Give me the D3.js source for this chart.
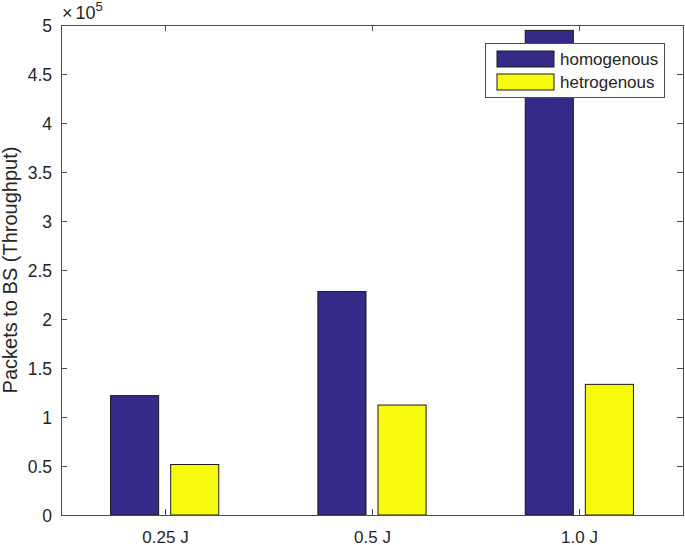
<!DOCTYPE html>
<html><head><meta charset="utf-8">
<script src="https://cdn.jsdelivr.net/npm/d3@7"></script>
<style>body{margin:0;background:#fff}svg{display:block;font-family:"Liberation Sans",Arial,sans-serif}</style>
</head><body>
<svg id="c" width="685" height="545"></svg>
<script>
const categories = ["0.25 J", "0.5 J", "1.0 J"];
const seriesNames = ["homogenous", "hetrogenous"];
const homogenous = [121800, 228000, 494500];
const hetrogenous = [51500, 112200, 133300];
const yTicks = [0, 0.5, 1, 1.5, 2, 2.5, 3, 3.5, 4, 4.5, 5];
const colors = ["#352a87", "#f8fa0d"];

const svg = d3.select("#c");
const L = 61, R = 683, T = 25, B = 515;
const x = d3.scaleLinear().domain([0.5, 3.5]).range([L, R]);
const y = d3.scaleLinear().domain([0, 500000]).range([B, T]);
const axisColor = "#4d4d4d";
const textColor = "#262626";

const series = [homogenous, hetrogenous];
const barW = 0.232, off = 0.145;
series.forEach((vals, s) => {
  svg.append("g").selectAll("rect").data(vals).join("rect")
    .attr("x", (d, i) => x(i + 1 + (s === 0 ? -off : off) - barW / 2))
    .attr("width", x(1 + barW) - x(1))
    .attr("y", d => y(d))
    .attr("height", d => y(0) - y(d))
    .attr("fill", colors[s]).attr("stroke", "#1a1a1a").attr("stroke-width", 1);
});

const g = svg.append("g").attr("fill", "none").attr("stroke", axisColor).attr("stroke-width", 1);
g.append("rect").attr("x", L + 0.5).attr("y", T + 0.5).attr("width", R - L).attr("height", B - T);

yTicks.forEach(t => {
  const yy = Math.round(y(t * 1e5)) + 0.5;
  g.append("line").attr("x1", L).attr("x2", L + 6).attr("y1", yy).attr("y2", yy);
  g.append("line").attr("x1", R - 6).attr("x2", R).attr("y1", yy).attr("y2", yy);
  svg.append("text").attr("x", L - 9).attr("y", yy + 6.5).attr("text-anchor", "end")
    .attr("font-size", 17.5).attr("fill", textColor).text(String(t));
});
categories.forEach((c, i) => {
  const xx = Math.round(x(i + 1)) + 0.5;
  g.append("line").attr("x1", xx).attr("x2", xx).attr("y1", B).attr("y2", B - 6);
  g.append("line").attr("x1", xx).attr("x2", xx).attr("y1", T).attr("y2", T + 6);
  svg.append("text").attr("x", xx).attr("y", B + 27.5).attr("text-anchor", "middle")
    .attr("font-size", 17).attr("fill", textColor).text(c);
});

const ex = svg.append("text").attr("x", L + 1).attr("y", 19).attr("font-size", 18).attr("fill", textColor);
ex.append("tspan").text("\u00d7");
ex.append("tspan").attr("dx", 3).text("10");
ex.append("tspan").attr("dy", -8).attr("font-size", 13).text("5");

svg.append("text").attr("transform", `translate(17,${(T + B) / 2}) rotate(-90)`)
  .attr("text-anchor", "middle").attr("font-size", 20).attr("fill", textColor)
  .text("Packets to BS (Throughput)");

const lg = svg.append("g");
lg.append("rect").attr("x", 485.5).attr("y", 43.5).attr("width", 179).attr("height", 54)
  .attr("fill", "#fff").attr("stroke", axisColor);
seriesNames.forEach((n, i) => {
  const yy = 51 + i * 23;
  lg.append("rect").attr("x", 497).attr("y", yy).attr("width", 57).attr("height", 16)
    .attr("fill", colors[i]).attr("stroke", "#1a1a1a");
  lg.append("text").attr("x", 560).attr("y", yy + 14).attr("font-size", 17).attr("fill", textColor).text(n);
});
</script>
</body></html>
